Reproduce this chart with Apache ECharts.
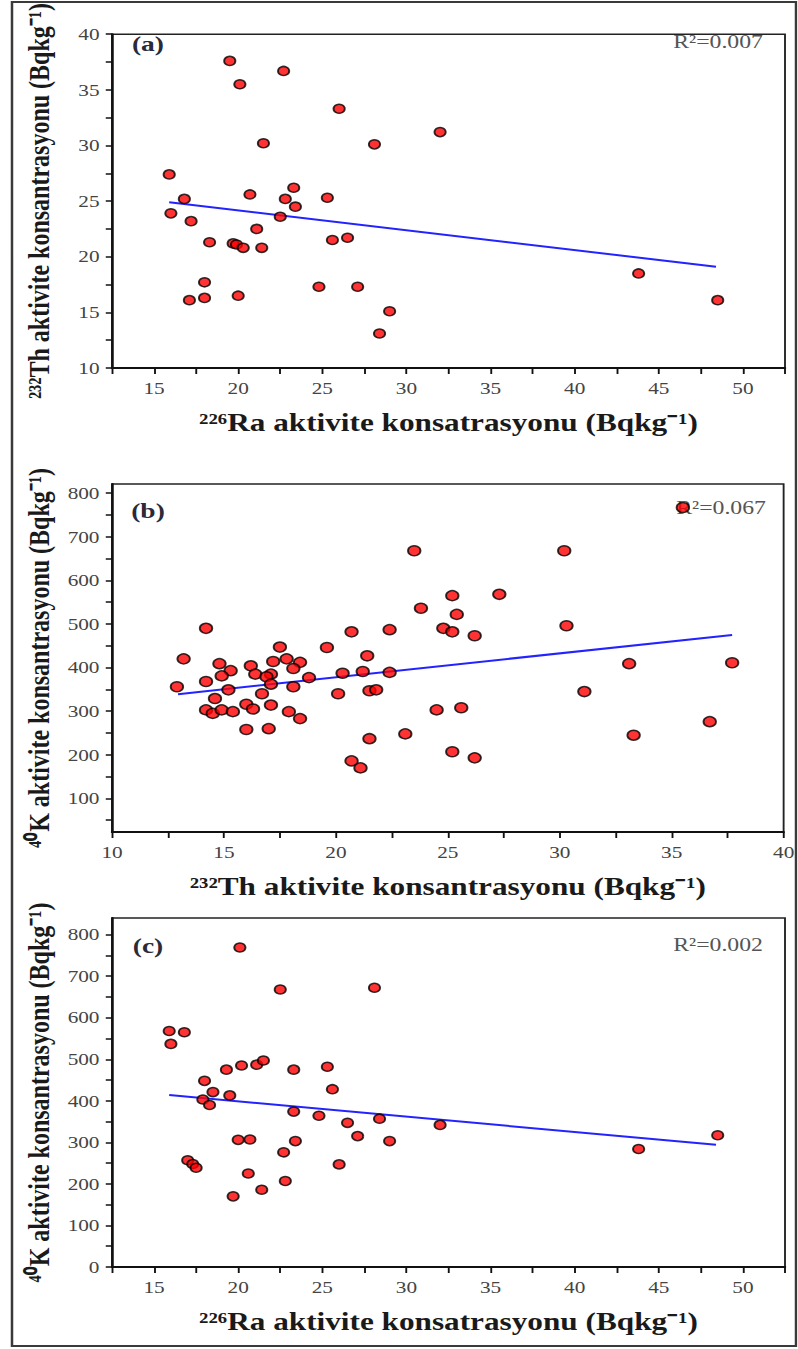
<!DOCTYPE html>
<html>
<head>
<meta charset="utf-8">
<script src="https://cdn.jsdelivr.net/npm/echarts@6/dist/echarts.min.js"></script>
<style>
  html, body { margin: 0; padding: 0; background: #fff; }
  #wrap { width: 798px; height: 1349px; overflow: hidden; position: relative; background: #fff; }
  #chart { width: 638.4px; height: 1349px; transform: scaleX(1.25); transform-origin: 0 0; }
</style>
</head>
<body>
<div id="wrap"><div id="chart"></div></div>
<script>
// ---------- Data ----------
// Panel (a): 226Ra (x) vs 232Th (y)
const raA = [19.5, 22.7, 20.1, 26.0, 32.0, 28.1, 21.5, 15.9, 16.8, 23.3, 20.7, 22.8, 25.3, 23.4, 16.0, 17.2, 22.5, 21.1, 18.3, 19.7, 19.9, 20.3, 21.4, 25.6, 26.5, 18.0, 17.1, 18.0, 20.0, 24.8, 27.1, 29.0, 28.4, 43.8, 48.5];
const thA = [37.6, 36.7, 35.5, 33.3, 31.2, 30.1, 30.2, 27.4, 25.2, 26.2, 25.6, 25.2, 25.3, 24.5, 23.9, 23.2, 23.6, 22.5, 21.3, 21.2, 21.1, 20.8, 20.8, 21.5, 21.7, 17.7, 16.1, 16.3, 16.5, 17.3, 17.3, 15.1, 13.1, 18.5, 16.1];
const fitAx = [15.9, 48.4];
const fitAy = [24.9, 19.1];

// Panel (b): 232Th (x) vs 40K (y)
const thB = [23.5, 25.2, 27.3, 23.8, 25.4, 24.8, 25.2, 26.2, 22.4, 20.7, 14.2, 19.6, 17.5, 21.4, 13.2, 17.8, 17.2, 18.4, 14.8, 16.2, 18.1, 15.3, 14.9, 16.4, 17.1, 16.9, 18.8, 20.3, 21.2, 22.4, 17.1, 12.9, 14.2, 15.2, 18.1, 21.5, 21.8, 16.7, 20.1, 14.6, 14.2, 14.5, 14.9, 15.4, 16.0, 16.3, 17.1, 17.9, 18.4, 16.0, 17.0, 21.5, 23.1, 20.7, 21.1, 24.5, 25.6, 25.2, 26.2, 30.2, 30.3, 33.1, 37.7, 31.1, 36.7, 33.3, 35.5];
const kB  = [668, 565, 568, 536, 522, 490, 482, 473, 487, 482, 490, 446, 447, 427, 420, 420, 414, 412, 409, 404, 398, 393, 381, 385, 385, 379, 377, 387, 391, 389, 362, 356, 368, 349, 356, 347, 349, 340, 340, 329, 303, 295, 303, 299, 316, 305, 314, 299, 283, 258, 260, 237, 248, 186, 170, 303, 308, 207, 193, 668, 496, 409, 411, 345, 276, 245, 767];
const fitBx = [12.95, 37.7];
const fitBy = [339, 475];

// Panel (c): 226Ra (x) vs 40K (y)
const raC = [20.1, 22.5, 28.1, 15.9, 16.8, 16.0, 19.3, 20.2, 21.1, 21.5, 23.3, 25.3, 25.6, 18.0, 18.5, 19.5, 17.9, 18.3, 23.3, 24.8, 26.5, 28.4, 32.0, 20.0, 20.7, 23.4, 27.1, 29.0, 22.7, 26.0, 17.0, 17.3, 17.5, 20.6, 22.8, 21.4, 19.7, 43.8, 48.5];
const kC  = [769, 668, 672, 568, 565, 537, 475, 485, 487, 497, 475, 482, 428, 448, 421, 413, 403, 390, 374, 364, 347, 357, 342, 306, 307, 303, 315, 303, 276, 247, 257, 248, 239, 225, 207, 186, 170, 284, 317];
const fitCx = [15.9, 48.4];
const fitCy = [414, 294];

// Tick / label values
const raTicks = [12.5, 15, 17.5, 20, 22.5, 25, 27.5, 30, 32.5, 35, 37.5, 40, 42.5, 45, 47.5, 50, 52.5];
const raLabels = [15, 20, 25, 30, 35, 40, 45, 50];
const thTicksA = [10, 12.5, 15, 17.5, 20, 22.5, 25, 27.5, 30, 32.5, 35, 37.5, 40];
const thLabelsA = [10, 15, 20, 25, 30, 35, 40];
const thTicksB = [10, 12.5, 15, 17.5, 20, 22.5, 25, 27.5, 30, 32.5, 35, 37.5, 40];
const thLabelsB = [10, 15, 20, 25, 30, 35, 40];
const kTicksB = [50, 100, 150, 200, 250, 300, 350, 400, 450, 500, 550, 600, 650, 700, 750, 800];
const kLabelsB = [100, 200, 300, 400, 500, 600, 700, 800];
const kTicksC = [0, 50, 100, 150, 200, 250, 300, 350, 400, 450, 500, 550, 600, 650, 700, 750, 800];
const kLabelsC = [0, 100, 200, 300, 400, 500, 600, 700, 800];

// Texts
const xTitleA = '\u00B2\u00B2\u2076Ra aktivite konsatrasyonu (Bqkg\u207B\u00B9)';
const yTitleA = '\u00B2\u00B3\u00B2Th aktivite konsantrasyonu (Bqkg\u207B\u00B9)';
const xTitleB = '\u00B2\u00B3\u00B2Th aktivite konsantrasyonu (Bqkg\u207B\u00B9)';
const yTitleB = '\u2074\u2070K aktivite konsantrasyonu (Bqkg\u207B\u00B9)';
const xTitleC = '\u00B2\u00B2\u2076Ra aktivite konsatrasyonu (Bqkg\u207B\u00B9)';
const yTitleC = '\u2074\u2070K aktivite konsantrasyonu (Bqkg\u207B\u00B9)';
const panelTags = ['(a)', '(b)', '(c)'];
const r2Texts = ['R\u00B2=0.007', 'R\u00B2=0.067', 'R\u00B2=0.002'];

// ---------- Layout ----------
const S = 1.25;              // horizontal stretch of the reference
const W = 798 / S;
const FONT = "'Liberation Serif', 'Times New Roman', serif";
const gridL = 112 / S, gridR = W - 785 / S;
const grids = [
  { left: gridL, right: gridR, top: 20, height: 348 },
  { left: gridL, right: gridR, top: 484, height: 348 },
  { left: gridL, right: gridR, top: 918, height: 349 }
];

function zip(a, b) { return a.map((v, i) => [v, b[i]]); }

function xAxisCfg(idx, min, max, ticks, labels, name) {
  return {
    type: 'value', gridIndex: idx, min: min, max: max,
    axisLine: { show: true, onZero: false, lineStyle: { color: '#111', width: 2 } },
    axisTick: { show: true, inside: false, length: 6, customValues: ticks, lineStyle: { color: '#111', width: 1.5 } },
    axisLabel: { show: true, customValues: labels, margin: 12, color: '#444', fontFamily: FONT, fontSize: 17, showMinLabel: true, showMaxLabel: true },
    splitLine: { show: false },
    name: name, nameLocation: 'middle', nameGap: 42,
    nameTextStyle: { fontFamily: FONT, fontSize: 25, fontWeight: 'bold', color: '#1a1a1a' }
  };
}
function yAxisCfg(idx, min, max, ticks, labels, name) {
  return {
    type: 'value', gridIndex: idx, min: min, max: max,
    axisLine: { show: true, onZero: false, lineStyle: { color: '#111', width: 2 } },
    axisTick: { show: true, inside: false, length: 5, customValues: ticks, lineStyle: { color: '#111', width: 1.5 } },
    axisLabel: { show: true, customValues: labels, margin: 10, color: '#444', fontFamily: FONT, fontSize: 17, showMinLabel: true, showMaxLabel: true },
    splitLine: { show: false },
    name: name, nameLocation: 'middle', nameGap: 46, nameRotate: 90,
    nameTextStyle: { fontFamily: FONT, fontSize: 24, fontWeight: 'bold', color: '#1a1a1a' }
  };
}

const scatterStyle = { color: '#ff0000', borderColor: '#000', borderWidth: 1.5 };
const lineStyle = { color: '#2323ff', width: 2 };

const option = {
  animation: false,
  backgroundColor: '#fff',
  grid: grids.map(g => Object.assign({ show: true, borderColor: '#222', borderWidth: 1.5, backgroundColor: 'transparent' }, g)),
  xAxis: [
    xAxisCfg(0, 12.5, 52.5, raTicks, raLabels, xTitleA),
    xAxisCfg(1, 10, 40, thTicksB, thLabelsB, xTitleB),
    xAxisCfg(2, 12.5, 52.5, raTicks, raLabels, xTitleC)
  ],
  yAxis: [
    yAxisCfg(0, 10, 40, thTicksA, thLabelsA, yTitleA),
    yAxisCfg(1, 23, 821, kTicksB, kLabelsB, yTitleB),
    yAxisCfg(2, 0, 840, kTicksC, kLabelsC, yTitleC)
  ],
  series: [
    { type: 'line', xAxisIndex: 0, yAxisIndex: 0, data: zip(fitAx, fitAy), symbol: 'none', lineStyle: lineStyle, z: 2 },
    { type: 'scatter', xAxisIndex: 0, yAxisIndex: 0, data: zip(raA, thA), symbol: 'circle', symbolSize: 9, itemStyle: scatterStyle, z: 3 },
    { type: 'line', xAxisIndex: 1, yAxisIndex: 1, data: zip(fitBx, fitBy), symbol: 'none', lineStyle: lineStyle, z: 2 },
    { type: 'scatter', xAxisIndex: 1, yAxisIndex: 1, data: zip(thB, kB), symbol: 'circle', symbolSize: 10, itemStyle: scatterStyle, z: 3 },
    { type: 'line', xAxisIndex: 2, yAxisIndex: 2, data: zip(fitCx, fitCy), symbol: 'none', lineStyle: lineStyle, z: 2 },
    { type: 'scatter', xAxisIndex: 2, yAxisIndex: 2, data: zip(raC, kC), symbol: 'circle', symbolSize: 9, itemStyle: scatterStyle, z: 3 }
  ],
  graphic: [
    { type: 'rect', z: 0, shape: { x: 12 / S, y: 2, width: (796 - 12) / S, height: 1344 }, style: { fill: 'none', stroke: '#3a3a3a', lineWidth: 2 } },
    { type: 'text', z: 1, x: 148 / S, y: 43, style: { text: panelTags[0], fontFamily: FONT, fontSize: 22, fontWeight: 'bold', fill: '#2a2a3a', align: 'center', verticalAlign: 'middle' } },
    { type: 'text', z: 1, x: 148 / S, y: 510, style: { text: panelTags[1], fontFamily: FONT, fontSize: 22, fontWeight: 'bold', fill: '#2a2a3a', align: 'center', verticalAlign: 'middle' } },
    { type: 'text', z: 1, x: 148 / S, y: 945, style: { text: panelTags[2], fontFamily: FONT, fontSize: 22, fontWeight: 'bold', fill: '#2a2a3a', align: 'center', verticalAlign: 'middle' } },
    { type: 'text', z: 1, x: 763 / S, y: 42, style: { text: r2Texts[0], fontFamily: FONT, fontSize: 19, fill: '#555', align: 'right', verticalAlign: 'middle' } },
    { type: 'text', z: 1, x: 766 / S, y: 508, style: { text: r2Texts[1], fontFamily: FONT, fontSize: 19, fill: '#555', align: 'right', verticalAlign: 'middle' } },
    { type: 'text', z: 1, x: 763 / S, y: 945, style: { text: r2Texts[2], fontFamily: FONT, fontSize: 19, fill: '#555', align: 'right', verticalAlign: 'middle' } }
  ]
};

const chart = echarts.init(document.getElementById('chart'), null, { renderer: 'svg', width: W, height: 1349 });
chart.setOption(option);
</script>
</body>
</html>
